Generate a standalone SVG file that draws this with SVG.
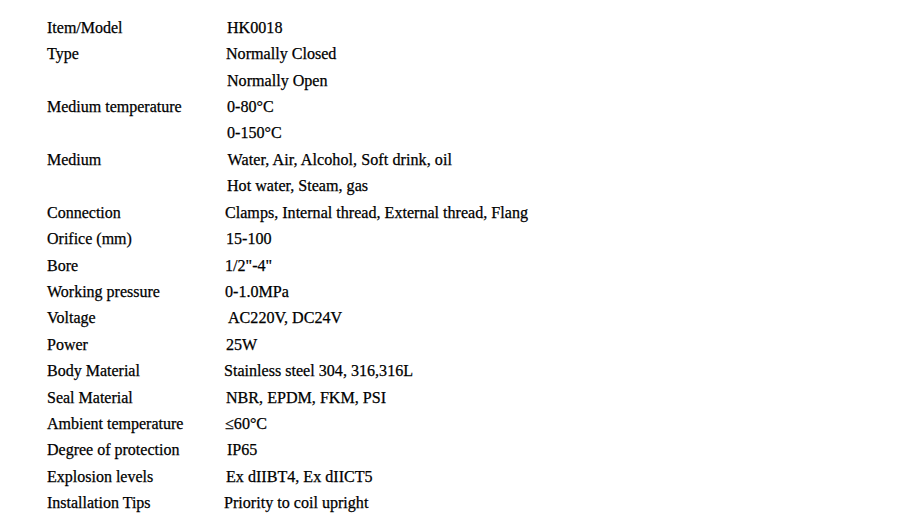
<svg xmlns="http://www.w3.org/2000/svg" width="900" height="530" viewBox="0 0 900 530">
<style>
text{font-family:"Liberation Serif","Times New Roman",serif;font-size:16px;fill:#000;stroke:#000;stroke-width:0.25}
#values text{font-size:16.1px}
</style>
<rect width="900" height="530" fill="#fff"/>
<g id="labels">
<text x="47" y="32.7">Item/Model</text>
<text x="47" y="59.1">Type</text>
<text x="47" y="112">Medium temperature</text>
<text x="47" y="164.8">Medium</text>
<text x="47" y="217.6">Connection</text>
<text x="47" y="244">Orifice (mm)</text>
<text x="47" y="270.5">Bore</text>
<text x="47" y="296.9">Working pressure</text>
<text x="47" y="323.3">Voltage</text>
<text x="47" y="349.7">Power</text>
<text x="47" y="376.1">Body Material</text>
<text x="47" y="402.5">Seal Material</text>
<text x="47" y="429">Ambient temperature</text>
<text x="47" y="455.4">Degree of protection</text>
<text x="47" y="481.8">Explosion levels</text>
<text x="47" y="508.2">Installation Tips</text>
</g>
<g id="values">
<text x="227" y="32.7">HK0018</text>
<text x="226" y="59.1">Normally Closed</text>
<text x="227" y="85.5">Normally Open</text>
<text x="227" y="112">0-80°C</text>
<text x="227" y="138.4">0-150°C</text>
<text x="227.5" y="164.8" textLength="224.5">Water, Air, Alcohol, Soft drink, oil</text>
<text x="227" y="191.2">Hot water, Steam, gas</text>
<text x="225" y="217.6" textLength="303">Clamps, Internal thread, External thread, Flang</text>
<text x="226" y="244">15-100</text>
<text x="225" y="270.5">1/2"-4"</text>
<text x="225" y="296.9">0-1.0MPa</text>
<text x="228" y="323.3">AC220V, DC24V</text>
<text x="226" y="349.7">25W</text>
<text x="224" y="376.1">Stainless steel 304, 316,316L</text>
<text x="226" y="402.5">NBR, EPDM, FKM, PSI</text>
<text x="225" y="429">≤60°C</text>
<text x="227" y="455.4">IP65</text>
<text x="226" y="481.8">Ex dIIBT4, Ex dIICT5</text>
<text x="224" y="508.2">Priority to coil upright</text>
</g>
</svg>
